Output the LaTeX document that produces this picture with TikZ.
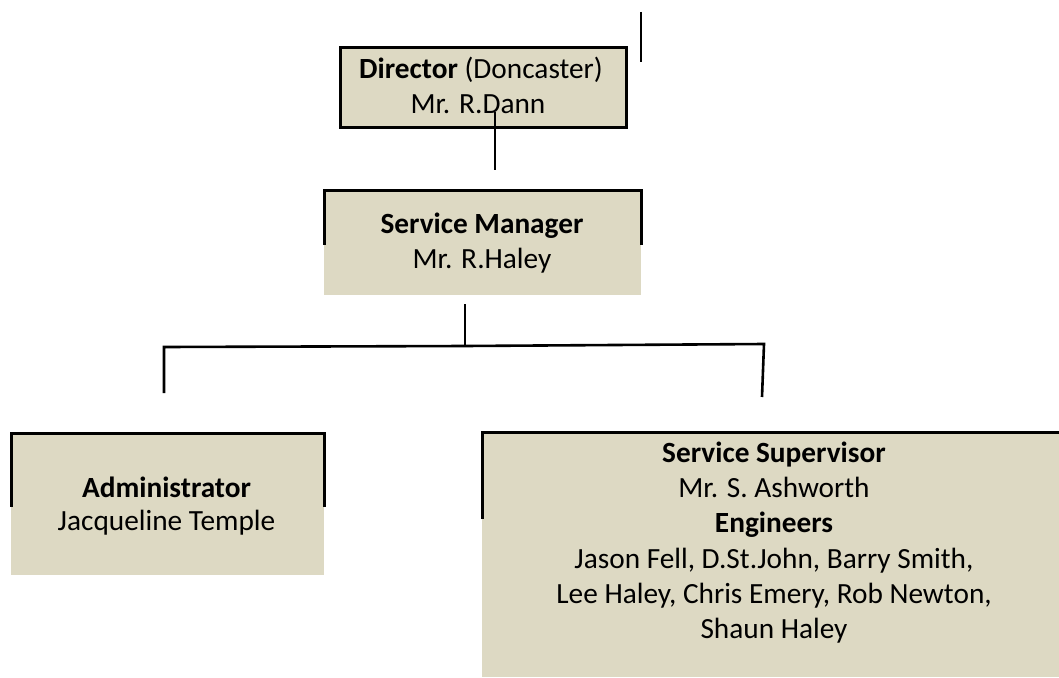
\documentclass[tikz,border=0pt]{standalone}
\usepackage{fontspec}
\setmainfont{Carlito}
\definecolor{boxfill}{HTML}{DDD9C3}
\tikzset{
  box/.style={fill=boxfill, draw=none, inner sep=0pt, anchor=north west},
  ln/.style={anchor=base, inner sep=0pt, font=\fontsize{29.3}{35}\selectfont},
  border/.style={line width=3pt, black, line cap=rect},
  conn/.style={line width=2.6pt, black},
}
\begin{document}
\begin{tikzpicture}[x=1pt, y=-1pt]
\useasboundingbox (0,0) rectangle (1059,677);
% boxes (filled areas)
\node[box, minimum width=286pt, minimum height=79pt] (dir) at (340,48) {};
\node[box, minimum width=317pt, minimum height=105pt] (sm) at (324,190) {};
\node[box, minimum width=313pt, minimum height=142pt] (adm) at (11,433) {};
\node[box, minimum width=577pt, minimum height=245pt] (sup) at (482,432) {};
% borders
\draw[border] (dir.north west) rectangle (dir.south east);
\draw[border] ([yshift=-53pt]sm.north west) -- (sm.north west) -- (sm.north east) -- ([yshift=-53pt]sm.north east);
\draw[border] ([yshift=-72pt]adm.north west) -- (adm.north west) -- (adm.north east) -- ([yshift=-72pt]adm.north east);
\draw[border] ([yshift=-85pt]sup.north west) -- (sup.north west) -- ([xshift=5pt]sup.north east);
% texts
\node[ln] (dir1) at (481,78) {\textbf{Director} (Doncaster)};
\node[ln] (dir2) at (478,113) {Mr. R.Dann};
\node[ln] (sm1) at (482,233) {\textbf{Service Manager}};
\node[ln] (sm2) at (482,268) {Mr. R.Haley};
\node[ln] (adm1) at (166.5,497) {\textbf{Administrator}};
\node[ln] (adm2) at (166.5,530) {Jacqueline Temple};
\node[ln] (sup1) at (774,462) {\textbf{Service Supervisor}};
\node[ln] (sup2) at (774,497) {Mr. S. Ashworth};
\node[ln] (sup3) at (774,532.5) {\textbf{Engineers}};
\node[ln] (sup4) at (774,568) {Jason Fell, D.St.John, Barry Smith,};
\node[ln] (sup5) at (774,603) {Lee Haley, Chris Emery, Rob Newton,};
\node[ln] (sup6) at (774,638) {Shaun Haley};
% connectors
\coordinate (topA) at (641,12);
\coordinate (topB) at (641,62);
\draw[conn] (topA) -- (topB);
\coordinate (d1) at (495,112);
\coordinate (d2) at (495,170);
\draw[conn] (d1) -- (d2);
\coordinate (s1) at (465,304);
\coordinate (s2) at (465,346);
\coordinate (lt) at (164,347);
\coordinate (lb) at (164,393);
\coordinate (rt) at (764,344);
\coordinate (rb) at (762,397);
\draw[conn] (s1) -- (s2);
\draw[conn] (lb) -- (lt) -- (s2) -- (rt) -- (rb);
\end{tikzpicture}
\end{document}
